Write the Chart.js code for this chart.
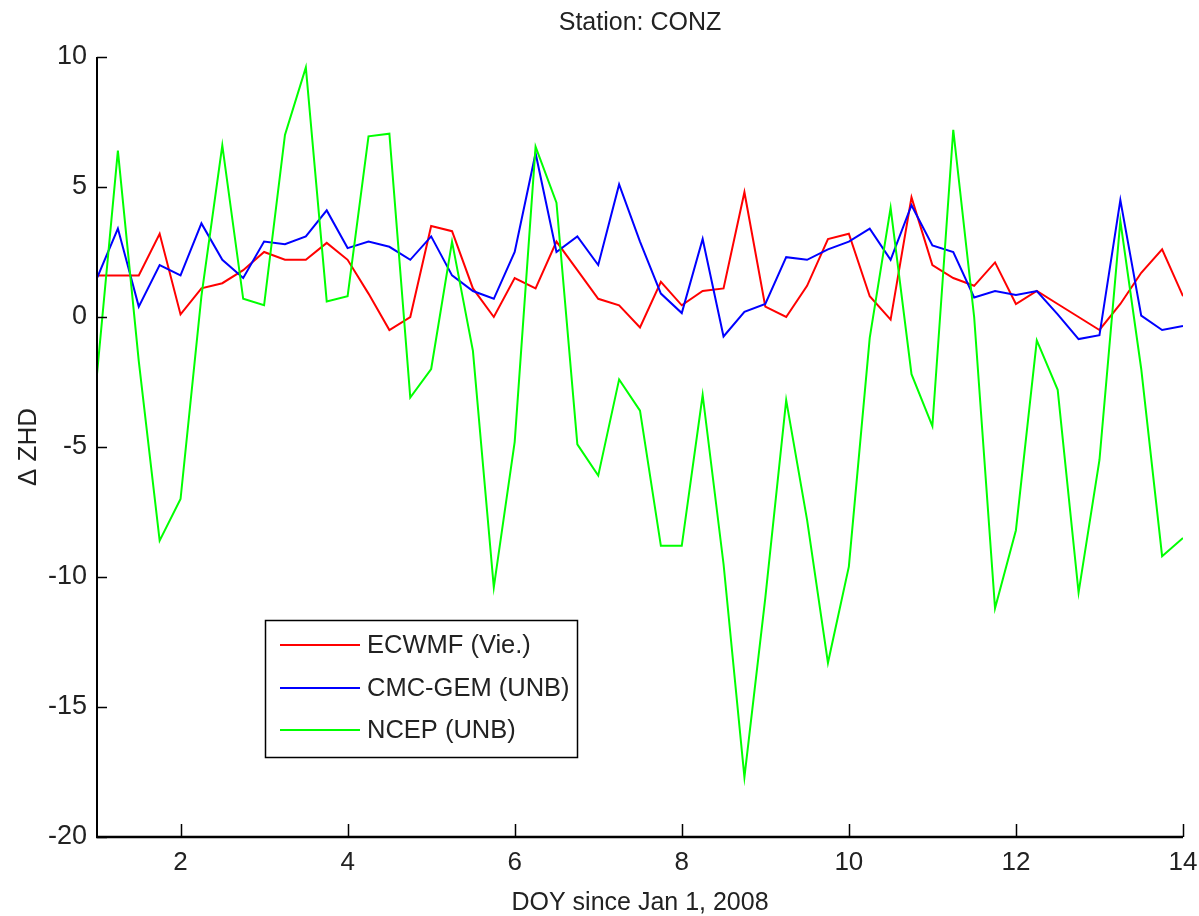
<!DOCTYPE html>
<html>
<head>
<meta charset="utf-8">
<script src="https://cdn.jsdelivr.net/npm/chart.js@4.4.1/dist/chart.umd.min.js"></script>
<style>
  html, body { margin: 0; padding: 0; background: #fff; }
  #wrap { width: 1199px; height: 916px; position: relative; }
</style>
</head>
<body>
<div id="wrap"><canvas id="c" width="1199" height="916"></canvas></div>
<script>
// ---- data ----
const doy = [1, 1.25, 1.5, 1.75, 2, 2.25, 2.5, 2.75, 3, 3.25, 3.5, 3.75, 4, 4.25, 4.5, 4.75,
  5, 5.25, 5.5, 5.75, 6, 6.25, 6.5, 6.75, 7, 7.25, 7.5, 7.75, 8, 8.25, 8.5, 8.75,
  9, 9.25, 9.5, 9.75, 10, 10.25, 10.5, 10.75, 11, 11.25, 11.5, 11.75, 12, 12.25, 12.5, 12.75,
  13, 13.25, 13.5, 13.75, 14];
const ecmwf = [1.6, 1.6, 1.6, 3.2, 0.1, 1.1, 1.3, 1.8, 2.5, 2.2, 2.2, 2.85, 2.2, 0.9, -0.5, 0.0,
  3.5, 3.3, 1.1, 0.0, 1.5, 1.1, 2.9, 1.8, 0.7, 0.45, -0.4, 1.35, 0.45, 1.0, 1.1, 4.8,
  0.4, 0.0, 1.2, 3.0, 3.2, 0.8, -0.1, 4.6, 2.0, 1.5, 1.2, 2.1, 0.5, 1.0, 0.5, 0.0,
  -0.5, 0.5, 1.7, 2.6, 0.8];
const cmcGem = [1.5, 3.4, 0.4, 2.0, 1.6, 3.6, 2.2, 1.5, 2.9, 2.8, 3.1, 4.1, 2.65, 2.9, 2.7, 2.2,
  3.1, 1.6, 1.0, 0.7, 2.5, 6.3, 2.5, 3.1, 2.0, 5.1, 2.9, 0.9, 0.15, 3.0, -0.75, 0.2,
  0.5, 2.3, 2.2, 2.6, 2.9, 3.4, 2.2, 4.3, 2.75, 2.5, 0.75, 1.0, 0.85, 1.0, 0.1, -0.85,
  -0.7, 4.5, 0.05, -0.5, -0.35];
const ncep = [-2.2, 6.4, -1.7, -8.6, -7.0, 0.8, 6.6, 0.7, 0.45, 7.0, 9.6, 0.6, 0.8, 6.95, 7.05, -3.1,
  -2.0, 2.9, -1.3, -10.4, -4.8, 6.55, 4.4, -4.9, -6.1, -2.4, -3.6, -8.8, -8.8, -3.0, -9.5, -17.7,
  -10.8, -3.2, -7.8, -13.3, -9.6, -0.8, 4.2, -2.2, -4.2, 7.2, 0.0, -11.2, -8.2, -0.9, -2.8, -10.6,
  -5.5, 3.7, -2.0, -9.2, -8.5];
const seriesNames = ['ECWMF (Vie.)', 'CMC-GEM (UNB)', 'NCEP (UNB)'];
const xTicks = [2, 4, 6, 8, 10, 12, 14];
const yTicks = [-20, -15, -10, -5, 0, 5, 10];

const FONT = "'Liberation Sans', Arial, sans-serif";

function pts(vals) { return vals.map((v, i) => ({ x: doy[i], y: v })); }

const matlabAxes = {
  id: 'matlabAxes',
  afterDatasetsDraw(chart) {
    const { ctx, chartArea: a, scales: { x, y } } = chart;
    ctx.save();
    ctx.strokeStyle = '#000';
    ctx.lineCap = 'butt';
    ctx.lineWidth = 2;
    ctx.beginPath();
    ctx.moveTo(a.left, a.top);
    ctx.lineTo(a.left, a.bottom);
    ctx.stroke();
    ctx.lineWidth = 2.5;
    ctx.beginPath();
    ctx.moveTo(a.left - 1, a.bottom);
    ctx.lineTo(a.right, a.bottom);
    ctx.stroke();
    ctx.lineWidth = 1.5;
    ctx.beginPath();
    y.ticks.forEach(t => {
      const py = Math.round(y.getPixelForValue(t.value)) + 0.5;
      ctx.moveTo(a.left, py); ctx.lineTo(a.left + 10, py);
    });
    x.ticks.forEach(t => {
      const px = Math.round(x.getPixelForValue(t.value)) + 0.5;
      ctx.moveTo(px, a.bottom); ctx.lineTo(px, a.bottom - 13);
    });
    ctx.stroke();
    ctx.restore();
  },
  afterDraw(chart) {
    const { ctx } = chart;
    const box = { l: 265, t: 620, r: 577, b: 757 };
    ctx.save();
    ctx.fillStyle = '#fff';
    ctx.fillRect(box.l, box.t, box.r - box.l, box.b - box.t);
    ctx.strokeStyle = '#000';
    ctx.lineWidth = 1.5;
    ctx.strokeRect(box.l + 0.5, box.t + 0.5, box.r - box.l, box.b - box.t);
    const rows = [645, 688, 730];
    ctx.font = "25.5px " + FONT;
    ctx.textBaseline = 'middle';
    ctx.textAlign = 'left';
    chart.data.datasets.forEach((ds, i) => {
      ctx.strokeStyle = ds.borderColor;
      ctx.lineWidth = 2;
      ctx.beginPath();
      ctx.moveTo(280, rows[i]); ctx.lineTo(360, rows[i]);
      ctx.stroke();
      ctx.fillStyle = '#222';
      ctx.fillText(ds.label, 367, rows[i] + 1);
    });
    ctx.restore();
  }
};

new Chart(document.getElementById('c'), {
  type: 'line',
  data: {
    datasets: [
      { label: seriesNames[0], data: pts(ecmwf), borderColor: '#ff0000', order: 2 },
      { label: seriesNames[1], data: pts(cmcGem), borderColor: '#0000ff', order: 1 },
      { label: seriesNames[2], data: pts(ncep), borderColor: '#00ff00', order: 0 }
    ]
  },
  options: {
    responsive: false,
    animation: false,
    events: [],
    layout: { padding: { top: 0, right: 16, left: 0, bottom: 0 } },
    elements: {
      line: { borderWidth: 2, tension: 0, fill: false },
      point: { radius: 0 }
    },
    plugins: {
      legend: { display: false },
      tooltip: { enabled: false },
      title: {
        display: true,
        text: 'Station: CONZ',
        fullSize: false,
        color: '#222',
        font: { family: FONT, size: 25, weight: 'normal', lineHeight: 1.2 },
        padding: { top: 8, bottom: 19 }
      }
    },
    scales: {
      x: {
        type: 'linear',
        min: 1, max: 14,
        afterBuildTicks: s => { s.ticks = xTicks.map(v => ({ value: v })); },
        afterFit: s => { s.height = 79; s.paddingLeft = 0; s.paddingRight = 0; },
        grid: { display: false, drawTicks: false },
        border: { display: false },
        ticks: { color: '#222', padding: 10, maxRotation: 0, autoSkip: false,
                 font: { family: FONT, size: 26 } },
        title: { display: true, text: 'DOY since Jan 1, 2008', color: '#222',
                 font: { family: FONT, size: 25, lineHeight: 1 }, padding: { top: 0, bottom: 0 } }
      },
      y: {
        type: 'linear',
        min: -20, max: 10,
        afterBuildTicks: s => { s.ticks = yTicks.map(v => ({ value: v })); },
        afterFit: s => { s.width = 97; },
        grid: { display: false, drawTicks: false },
        border: { display: false },
        ticks: { color: '#222', padding: 10, autoSkip: false,
                 font: { family: FONT, size: 27 } },
        title: { display: true, text: 'Δ ZHD', color: '#222',
                 font: { family: FONT, size: 26, lineHeight: 1.2 }, padding: { top: 13, bottom: 0 } }
      }
    }
  },
  plugins: [matlabAxes]
});
</script>
</body>
</html>
